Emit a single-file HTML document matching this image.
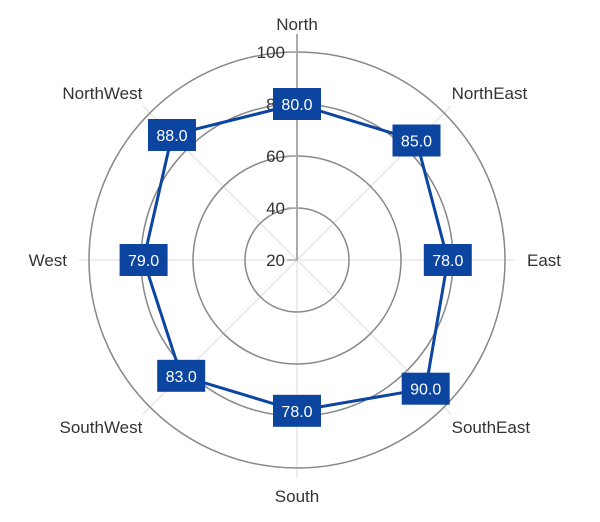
<!DOCTYPE html>
<html><head><meta charset="utf-8"><style>
body{margin:0;background:#fff;}
svg{display:block;font-family:"Liberation Sans",sans-serif;}
</style></head><body>
<svg id="chart" width="600" height="522" viewBox="0 0 600 522"></svg>
<script>
const categories=["North","NorthEast","East","SouthEast","South","SouthWest","West","NorthWest"];
const values=[80,85,78,90,78,83,79,88];
const ticks=[20,40,60,80,100];
const labelText=["80.0","85.0","78.0","90.0","78.0","83.0","79.0","88.0"];
const cx=297,cy=260,R=208,vmin=20,vmax=100;
const svg=document.getElementById('chart');
const NS='http://www.w3.org/2000/svg';
function r(v){return (v-vmin)/(vmax-vmin)*R;}
function ang(i){return -Math.PI/2+i*2*Math.PI/categories.length;}
function pt(i,rad){return [cx+rad*Math.cos(ang(i)),cy+rad*Math.sin(ang(i))];}
function mk(t,a){const e=document.createElementNS(NS,t);for(const k in a)e.setAttribute(k,a[k]);svg.appendChild(e);return e;}
// spokes
categories.forEach((c,i)=>{
  const p=pt(i,R+10);
  const e=mk('line',{x1:cx,y1:cy,x2:p[0],y2:p[1],stroke:'#ddd','stroke-width':1});
  
  
});
// circles
ticks.forEach(t=>{
  if(r(t)<=0)return;
  const e=mk('circle',{cx:cx,cy:cy,r:r(t),fill:'none',stroke:'#888','stroke-width':1.5});
  
  
});
// vertical axis
const ax=mk('line',{x1:cx,y1:cy,x2:cx,y2:cy-R-18,stroke:'#aaa','stroke-width':2});


ticks.forEach(t=>{
  const y=cy-r(t);
  const tk=mk('line',{x1:cx-10,y1:y,x2:cx,y2:y,stroke:'#aaa','stroke-width':1.5});
  
  
  const tx=mk('text',{x:cx-12,y:y+6,'text-anchor':'end','font-size':17,fill:'#333'});
  tx.textContent=t;
  
  
});
// category labels
categories.forEach((c,i)=>{
  const p=pt(i,R+22);
  const a=ang(i);const cs=Math.cos(a);
  let anchor=Math.abs(cs)<0.1?'middle':(cs>0?'start':'end');
  let dy=6+Math.sin(a)*6;
  const e=mk('text',{x:p[0]+(anchor==='start'?-8:anchor==='end'?8:0)*(Math.abs(Math.sin(a))>0.5?1:0),y:p[1]+dy,'text-anchor':anchor,'font-size':17,fill:'#333'});
  e.textContent=c;
  
  
});
// series line
const pts=values.map((v,i)=>pt(i,r(v)));
const poly=mk('polygon',{points:pts.map(p=>p.join(',')).join(' '),fill:'none',stroke:'#0b45a0','stroke-width':3,'stroke-linejoin':'round'});


// labels
values.forEach((v,i)=>{
  const p=pts[i];
  const b=mk('rect',{x:p[0]-24,y:p[1]-16,width:48,height:32,fill:'#0b45a0'});
  
  
  const t=mk('text',{x:p[0],y:p[1]+6,'text-anchor':'middle','font-size':16,fill:'#fff'});
  t.textContent=labelText[i];
  
  
});
</script>
</body></html>
